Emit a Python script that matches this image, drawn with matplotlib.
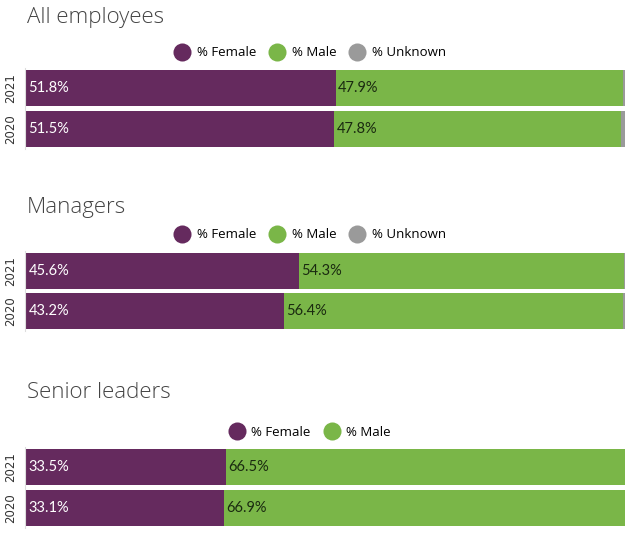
import matplotlib.pyplot as plt
from matplotlib.lines import Line2D

# ------------------------------------------------------------
# Data
# ------------------------------------------------------------
YEARS = ['2021', '2020']
PANELS = ['All employees', 'Managers', 'Senior leaders']

FEMALE = [[51.8, 51.5], [45.6, 43.2], [33.5, 33.1]]
MALE = [[47.9, 47.8], [54.3, 56.4], [66.5, 66.9]]
UNKNOWN = [[0.3, 0.7], [0.1, 0.4], [0.0, 0.0]]
SHOW_UNKNOWN = [True, True, False]

PURPLE = '#652a5e'
GREEN = '#7ab648'
GREY = '#9a9a9a'

W, H = 630, 533
fig = plt.figure(figsize=(W / 100, H / 100), dpi=100)
fig.patch.set_facecolor('white')

# pixel layout: (axes top, axes bottom, title y, legend y)
layout = [(68, 149, 17, 53), (251, 331, 208, 235), (447, 528, 393, 432)]

for p, name in enumerate(PANELS):
    top, bot, ty, ly = layout[p]
    ax = fig.add_axes([25 / W, 1 - bot / H, 600 / W, (bot - top) / H])
    ypos = [0, 1]
    f = FEMALE[p]
    m = MALE[p]
    u = UNKNOWN[p]
    left_m = f
    left_u = [a + b for a, b in zip(f, m)]
    ax.barh(ypos, f, height=0.88, color=PURPLE)
    ax.barh(ypos, m, left=left_m, height=0.88, color=GREEN)
    ax.barh(ypos, u, left=left_u, height=0.88, color=GREY)
    for i in ypos:
        ax.text(0.6, i, f'{f[i]:.1f}%', color='white', va='center', ha='left',
                fontsize=10.5, family='Lato')
        ax.text(left_m[i] + 0.4, i, f'{m[i]:.1f}%', color='#1a2a10', va='center',
                ha='left', fontsize=10.5, family='Lato')
    ax.set_xlim(0, 100)
    ax.set_ylim(1.5, -0.5)
    ax.set_xticks([])
    ax.set_yticks(ypos)
    ax.set_yticklabels(YEARS, rotation=90, va='center', fontsize=8.5,
                       color='#333333')
    ax.tick_params(axis='y', length=0, pad=6)
    for s in ['top', 'right', 'bottom']:
        ax.spines[s].set_visible(False)
    ax.spines['left'].set_color('#dddddd')
    ax.spines['left'].set_linewidth(0.8)

    fig.text(27 / W, 1 - ty / H, name, fontsize=16, color='#444444',
             family='Open Sans', va='center', ha='left', fontweight='light')

    handles = [Line2D([], [], marker='o', color='none', markerfacecolor=PURPLE,
                      markeredgecolor='none', markersize=13, label='% Female'),
               Line2D([], [], marker='o', color='none', markerfacecolor=GREEN,
                      markeredgecolor='none', markersize=13, label='% Male')]
    if SHOW_UNKNOWN[p]:
        handles.append(Line2D([], [], marker='o', color='none', markerfacecolor=GREY,
                              markeredgecolor='none', markersize=13, label='% Unknown'))
    fig.legend(handles=handles, loc='center', bbox_to_anchor=(310 / W, 1 - ly / H),
               ncol=len(handles), frameon=False, handletextpad=0.5,
               columnspacing=1.0, handlelength=1.2,
               prop={'family': 'Open Sans', 'size': 9.5})

plt.savefig('out.png', dpi=100)
plt.close()
